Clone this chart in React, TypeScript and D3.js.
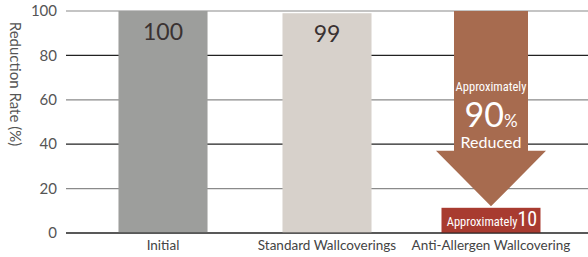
import * as d3 from "d3";

const categories = ["Initial", "Standard Wallcoverings", "Anti-Allergen Wallcovering"];
const values = [100, 99, 10];
const valueLabels = ["100", "99", "10"];
const barColors = ["#9d9e9c", "#d7d1cb", "#a83b30"];
const yTicks = [0, 20, 40, 60, 80, 100];
const arrowHeadStart = 37;
const arrowTip = 12;

const width = 588;
const height = 257;

export default function App() {
  const x = d3
    .scaleBand<string>()
    .domain(categories)
    .range([66, 588])
    .paddingInner(0.457)
    .paddingOuter(0.32);
  const y = d3.scaleLinear().domain([0, 100]).range([233, 11]);
  const bw = x.bandwidth();

  const last = categories[2];
  const cx = (x(last) ?? 0) + bw / 2;
  const shaftW = 74;
  const headW = 110;
  const arrowPath = d3.path();
  arrowPath.moveTo(cx - shaftW / 2, y(values[0]));
  arrowPath.lineTo(cx + shaftW / 2, y(values[0]));
  arrowPath.lineTo(cx + shaftW / 2, y(arrowHeadStart));
  arrowPath.lineTo(cx + headW / 2, y(arrowHeadStart));
  arrowPath.lineTo(cx, y(arrowTip));
  arrowPath.lineTo(cx - headW / 2, y(arrowHeadStart));
  arrowPath.lineTo(cx - shaftW / 2, y(arrowHeadStart));
  arrowPath.closePath();

  const boxW = 99;
  const narrow = "'Liberation Sans Narrow', 'Roboto Condensed', sans-serif";

  return (
    <svg
      width={width}
      height={height}
      style={{ position: "absolute", left: 0, top: 0 }}
      fontFamily="Lato, 'Open Sans', sans-serif"
    >
      {yTicks.map((t, i) => (
        <g key={t}>
          <line
            x1={66}
            x2={588}
            y1={y(t)}
            y2={y(t)}
            stroke={i % 2 === 0 ? "#222" : "#8a8a8a"}
            strokeWidth={1.2}
          />
          <text
            x={57}
            y={y(t)}
            dy="0.35em"
            textAnchor="end"
            fontSize={15}
            fill="#555"
          >
            {t}
          </text>
        </g>
      ))}

      <text
        transform="rotate(90)"
        x={84}
        y={-10}
        textAnchor="middle"
        fontSize={15}
        fill="#555"
      >
        Reduction Rate (%)
      </text>

      {categories.slice(0, 2).map((c, i) => (
        <g key={c}>
          <rect
            x={x(c)}
            y={y(values[i])}
            width={bw}
            height={y(0) - y(values[i])}
            fill={barColors[i]}
          />
          <text
            x={(x(c) ?? 0) + bw / 2}
            y={y(values[i]) + 29}
            textAnchor="middle"
            fontSize={23}
            fill="#3a3232"
          >
            {valueLabels[i]}
          </text>
        </g>
      ))}

      <path d={arrowPath.toString()} fill="#a76b4f" />
      <text x={cx} y={91} textAnchor="middle" fontSize={12.5} fill="#fff" fontFamily={narrow}>
        Approximately
      </text>
      <text x={cx} y={127} textAnchor="middle" fill="#fff">
        <tspan fontSize={34}>90</tspan>
        <tspan fontSize={17}>%</tspan>
      </text>
      <text x={cx} y={148} textAnchor="middle" fontSize={16} fill="#fff">
        Reduced
      </text>

      <rect
        x={cx - boxW / 2}
        y={y(values[2]) - 3}
        width={boxW}
        height={y(0) - y(values[2]) + 3}
        fill={barColors[2]}
      />
      <text x={cx + 1} y={226} textAnchor="middle" fill="#fff" fontFamily={narrow}>
        <tspan fontSize={12.5}>Approximately</tspan>
        <tspan fontSize={20}>{valueLabels[2]}</tspan>
      </text>

      <line x1={66} x2={588} y1={y(0)} y2={y(0)} stroke="#222" strokeWidth={1.2} />

      {categories.map((c) => (
        <text
          key={c}
          x={(x(c) ?? 0) + bw / 2}
          y={250}
          textAnchor="middle"
          fontSize={13.5}
          fill="#444"
        >
          {c}
        </text>
      ))}
    </svg>
  );
}
